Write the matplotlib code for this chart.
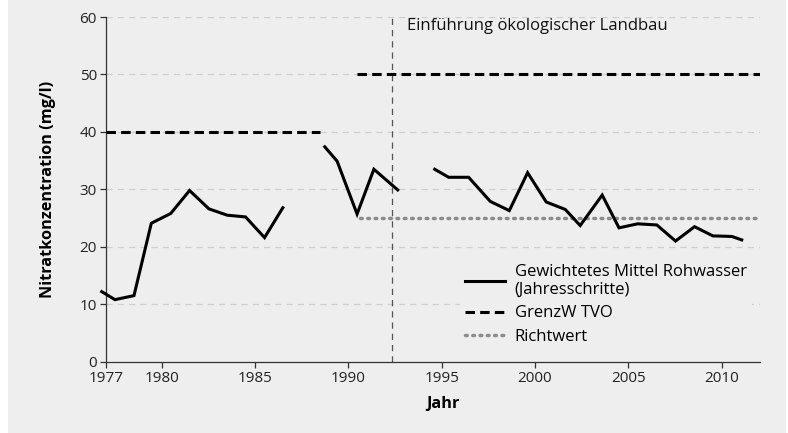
import matplotlib.pyplot as plt
from matplotlib.patches import Rectangle

plt.rcParams['font.family'] = ['Open Sans', 'DejaVu Sans']

# Gewichtetes Mittel Rohwasser, three separate segments (year, mg/l)
seg1_x = [1976.77, 1977.48, 1978.5, 1979.43, 1980.47, 1981.48, 1982.52, 1983.5, 1984.48, 1985.5, 1986.48]
seg1_y = [12.2, 10.8, 11.5, 24.1, 25.8, 29.8, 26.6, 25.5, 25.2, 21.6, 26.8]
seg2_x = [1988.73, 1989.39, 1990.46, 1991.36, 1992.64]
seg2_y = [37.4, 34.9, 25.7, 33.5, 29.9]
seg3_x = [1994.62, 1995.37, 1996.44, 1997.6, 1998.62, 1999.6, 2000.6, 2001.62, 2002.42,
          2003.6, 2004.5, 2005.5, 2006.53, 2007.53, 2008.55, 2009.53, 2010.55, 2011.08]
seg3_y = [33.5, 32.1, 32.1, 27.9, 26.3, 32.9, 27.8, 26.5, 23.7,
          29.0, 23.3, 24.0, 23.8, 21.0, 23.5, 21.9, 21.8, 21.2]

# GrenzW TVO
grenz1_x = [1977, 1988.46]
grenz1_y = [40, 40]
grenz2_x = [1990.43, 2012.06]
grenz2_y = [50, 50]
# Richtwert
richt_x = [1990.6, 2012.06]
richt_y = [25, 25]

event_year = 1992.33
event_label = "Einführung ökologischer Landbau"

xticks = [1977, 1980, 1985, 1990, 1995, 2000, 2005, 2010]
yticks = [0, 10, 20, 30, 40, 50, 60]

bg = '#eeeeee'
fig = plt.figure(figsize=(7.88, 4.33), dpi=100)
fig.patch.set_facecolor('white')
fig.patches.append(Rectangle((8 / 788, 0), 778 / 788, 1, transform=fig.transFigure,
                             facecolor=bg, edgecolor='none', zorder=-10))
ax = fig.add_axes([0.1345, 0.1647, 0.83, 0.796])
ax.set_facecolor(bg)

for y in yticks[1:]:
    ax.axhline(y, color='#cfcfcf', lw=0.9, ls=(0, (5, 4)), zorder=1)

ax.axvline(event_year, color='#555555', lw=0.9, ls=(0, (5, 4)), zorder=2)
ax.text(event_year + 0.8, 58.4, event_label, fontsize=12, va='center', ha='left', color='#111111')

line_kw = dict(color='black', lw=2.2, solid_joinstyle='miter', zorder=4)
l1, = ax.plot(seg1_x, seg1_y, clip_on=False, **line_kw)
ax.plot(seg2_x, seg2_y, **line_kw)
ax.plot(seg3_x, seg3_y, **line_kw)

dash = (0, (3.1, 1.7))
l2, = ax.plot(grenz1_x, grenz1_y, color='black', lw=2.2, ls=dash, zorder=3)
ax.plot(grenz2_x, grenz2_y, color='black', lw=2.2, ls=dash, zorder=3)
l3, = ax.plot(richt_x, richt_y, color='#8c8c8c', lw=2.5, ls=(0, (0.5, 1.6)),
              dash_capstyle='round', zorder=3)

ax.set_xlim(1977, 2012.06)
ax.set_ylim(0, 60)
ax.set_xticks(xticks)
ax.set_yticks(yticks)
ax.tick_params(axis='both', length=4, width=0.9, color='#333333', labelsize=11,
               labelcolor='#222222', pad=2.5)
for side in ['top', 'right']:
    ax.spines[side].set_visible(False)
for side in ['left', 'bottom']:
    ax.spines[side].set_color('#333333')
    ax.spines[side].set_linewidth(0.9)

ax.set_xlabel('Jahr', fontsize=11.7, fontweight='bold')
ax.xaxis.set_label_coords(0.515, -0.1)
ax.set_ylabel('Nitratkonzentration (mg/l)', fontsize=11.7, fontweight='bold')
ax.yaxis.set_label_coords(-0.076, 0.5)

leg = ax.legend([l1, l2, l3],
                ['Gewichtetes Mittel Rohwasser\n(Jahresschritte)', 'GrenzW TVO', 'Richtwert'],
                loc='lower right', bbox_to_anchor=(1.0, 0.01), frameon=True,
                facecolor=bg, edgecolor='none', framealpha=1, fontsize=12,
                handlelength=2.4, handletextpad=0.6, labelspacing=0.45, borderpad=0.3)
leg.set_zorder(5)

fig.savefig('out.png', dpi=100, facecolor=fig.get_facecolor())
